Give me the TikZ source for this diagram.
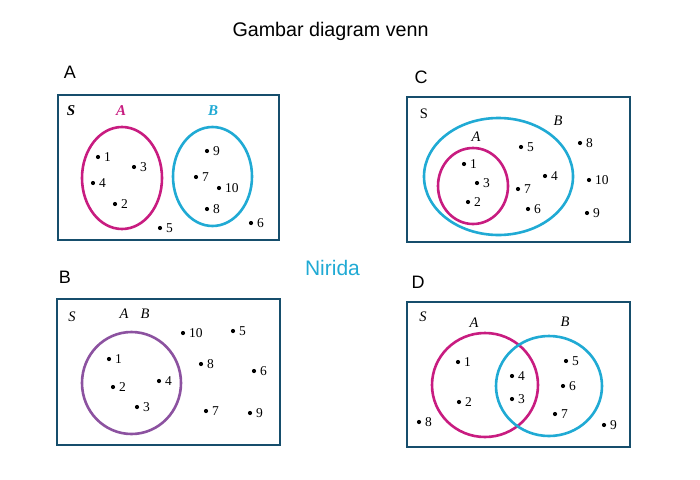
\documentclass[tikz,border=0pt]{standalone}
\usepackage{fontspec}
\setmainfont{Liberation Serif}
\newfontfamily\arialfont{Liberation Sans}
\usepackage{tikz}
\definecolor{boxblue}{RGB}{22,78,108}
\definecolor{vmag}{RGB}{200,28,128}
\definecolor{vcyan}{RGB}{32,170,212}
\definecolor{vpurple}{RGB}{140,82,160}
\tikzset{
  frame/.style={draw=boxblue, line width=2.6pt},
  setline/.style={line width=2.6pt},
  elt/.style={circle, fill=black, inner sep=0pt, minimum size=4.2pt,
    label={[font=\fontsize{13.5}{13.5}\selectfont, inner sep=0pt, label distance=3.5pt]right:#1}},
  head/.style={font=\arialfont\fontsize{18}{18}\selectfont},
  tag/.style={font=\fontsize{14.5}{14.5}\selectfont\itshape},
  boldtag/.style={font=\fontsize{15}{15}\selectfont\bfseries\itshape},
  uptag/.style={font=\fontsize{14.5}{14.5}\selectfont},
}
\begin{document}
\begin{tikzpicture}[x=1pt, y=-1pt]
\useasboundingbox (0,0) rectangle (700,479);
% headings
\node[head, font=\arialfont\fontsize{19.7}{19.7}\selectfont] (title) at (330.5,31) {Gambar diagram venn};
\node[head, font=\arialfont\fontsize{21}{21}\selectfont, text=vcyan] (nirida) at (332.5,268) {Nirida};
\node[head] (hA) at (70,72) {A};
\node[head] (hB) at (65,277) {B};
\node[head] (hC) at (421,77) {C};
\node[head] (hD) at (418,282) {D};
% panel A: disjoint sets
\draw[frame] (58,95) rectangle (279,240);
\node[boldtag] (sA) at (71,111) {S};
\node[boldtag, text=vmag] (lA) at (121,111) {A};
\node[boldtag, text=vcyan] (lB) at (213,111) {B};
\draw[setline, vmag] (122,178) ellipse [x radius=40, y radius=51];
\draw[setline, vcyan] (212.5,176.5) ellipse [x radius=39.5, y radius=49.5];
\foreach \x/\y/\n in {98/157/1, 115/204/2, 134/167/3, 93/183/4, 160/228/5,
  251/223/6, 196/177/7, 207/209/8, 207/151/9, 219/188/10}
  \node[elt=\n] (pa\n) at (\x,\y) {};
% panel C: A subset of B
\draw[frame] (407,97) rectangle (630,242);
\node[uptag] (sC) at (424,114) {S};
\node[tag] (cB) at (558,121) {B};
\node[tag] (cA) at (476,137) {A};
\draw[setline, vcyan] (498.5,176.5) ellipse [x radius=74.5, y radius=58.5];
\draw[setline, vmag] (473,186) ellipse [x radius=35, y radius=38];
\foreach \x/\y/\n in {464/164/1, 468/202/2, 477/183/3, 545/176/4, 521/147/5,
  528/209/6, 518/189/7, 580/143/8, 587/213/9, 589/180/10}
  \node[elt=\n] (pc\n) at (\x,\y) {};
% panel B: A equal to B
\draw[frame] (57,299) rectangle (280,445);
\node[tag] (sB) at (72,317) {S};
\node[tag] (bA) at (124,314) {A};
\node[tag] (bB) at (145,314) {B};
\draw[setline, vpurple] (131.5,383) ellipse [x radius=49.5, y radius=51];
\foreach \x/\y/\n in {109/359/1, 113/387/2, 137/407/3, 159/381/4, 233/331/5,
  254/371/6, 206/411/7, 201/364/8, 250/413/9, 183/333/10}
  \node[elt=\n] (pb\n) at (\x,\y) {};
% panel D: intersecting sets
\draw[frame] (407,302) rectangle (630,447);
\node[tag] (sD) at (423,317) {S};
\node[tag] (dA) at (474,323) {A};
\node[tag] (dB) at (565,322) {B};
\draw[setline, vmag] (485,385) ellipse [x radius=53, y radius=52];
\draw[setline, vcyan] (549,386) ellipse [x radius=53, y radius=50];
\foreach \x/\y/\n in {458/362/1, 459/402/2, 512/399/3, 512/376/4, 566/361/5,
  563/386/6, 555/414/7, 419/422/8, 604/425/9}
  \node[elt=\n] (pd\n) at (\x,\y) {};
\end{tikzpicture}
\end{document}
